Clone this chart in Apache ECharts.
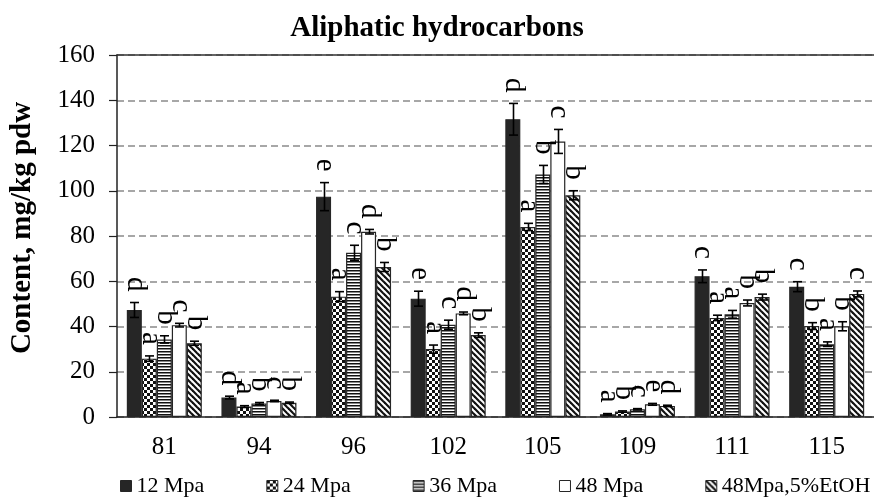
<!DOCTYPE html>
<html>
<head>
<meta charset="utf-8">
<script src="https://cdn.jsdelivr.net/npm/echarts@6/dist/echarts.min.js"></script>
<style>
html,body{margin:0;padding:0;background:#fff;}
#chart{width:874px;height:501px;}
</style>
</head>
<body>
<div id="chart"></div>
<script>
// ---- data ----
const categories = ['81', '94', '96', '102', '105', '109', '111', '115'];
const seriesNames = ['12 Mpa', '24 Mpa', '36 Mpa', '48 Mpa', '48Mpa,5%EtOH'];

const mpa12    = [47.3, 8.6, 97.4, 52.3, 131.6, 1.2, 62.2, 57.6];
const mpa12Err = [3.3, 0.6, 6.2, 3.3, 7.0, 0.3, 2.8, 2.2];
const mpa24    = [25.8, 4.6, 53.2, 30.0, 84.0, 2.4, 43.8, 40.2];
const mpa24Err = [1.2, 0.4, 2.2, 1.8, 1.6, 0.3, 1.2, 1.5];
const mpa36    = [34.3, 6.0, 72.6, 40.8, 107.2, 3.4, 45.4, 32.2];
const mpa36Err = [1.6, 0.4, 3.3, 2.0, 4.0, 0.3, 1.7, 1.0];
const mpa48    = [40.6, 7.1, 81.9, 45.8, 121.8, 5.6, 50.4, 40.1];
const mpa48Err = [0.8, 0.3, 1.0, 0.6, 5.3, 0.4, 1.3, 2.0];
const etoh     = [32.6, 6.3, 66.3, 36.2, 98.0, 4.9, 53.0, 54.4];
const etohErr  = [0.9, 0.3, 2.0, 1.0, 2.0, 0.3, 1.3, 1.3];

const letters12   = ['d', 'd', 'e', 'e', 'd', 'a', 'c', 'c'];
const letters24   = ['a', 'a', 'a', 'a', 'a', 'b', 'a', 'b'];
const letters36   = ['b', 'b', 'c', 'c', 'b', 'c', 'a', 'a'];
const letters48   = ['c', 'c', 'd', 'd', 'c', 'e', 'b', 'b'];
const lettersEtoh = ['b', 'b', 'b', 'b', 'b', 'd', 'b', 'c'];

const yTicks = { min: 0, max: 160, interval: 20 };

// ---- patterns ----
function pattern(kind) {
  const c = document.createElement('canvas');
  const ctx = c.getContext('2d');
  if (kind === 'checker') {
    c.width = 6; c.height = 6;
    ctx.fillStyle = '#fff'; ctx.fillRect(0, 0, 6, 6);
    ctx.fillStyle = '#111';
    ctx.fillRect(0, 0, 3, 3); ctx.fillRect(3, 3, 3, 3);
  } else if (kind === 'hstripe') {
    c.width = 4; c.height = 3;
    ctx.fillStyle = '#fff'; ctx.fillRect(0, 0, 4, 3);
    ctx.fillStyle = '#111'; ctx.fillRect(0, 0, 4, 1);
    ctx.fillStyle = '#888'; ctx.fillRect(0, 1, 4, 1);
  } else if (kind === 'diag') {
    c.width = 6; c.height = 6;
    ctx.fillStyle = '#fff'; ctx.fillRect(0, 0, 6, 6);
    ctx.strokeStyle = '#111'; ctx.lineWidth = 2.2;
    for (let k = -6; k <= 6; k += 6) {
      ctx.beginPath(); ctx.moveTo(k - 1, -1); ctx.lineTo(k + 7, 7); ctx.stroke();
    }
  }
  return { image: c, repeat: 'repeat' };
}

const values = [mpa12, mpa24, mpa36, mpa48, etoh];
const errs = [mpa12Err, mpa24Err, mpa36Err, mpa48Err, etohErr];
const letters = [letters12, letters24, letters36, letters48, lettersEtoh];
const fills = ['#262626', pattern('checker'), pattern('hstripe'), '#ffffff', pattern('diag')];

const BAR_W = 15;
const FONT = 'Liberation Serif, Times New Roman, serif';

const barSeries = seriesNames.map((name, i) => ({
  name: name,
  type: 'bar',
  xAxisIndex: 0,
  barWidth: BAR_W,
  barGap: '0%',
  data: values[i],
  itemStyle: { color: fills[i], borderColor: '#262626', borderWidth: 1.2 },
  emphasis: { disabled: true }
}));

const errData = [];
values.forEach((arr, s) => arr.forEach((v, c) => errData.push([c, s, v, errs[s][c]])));

// error bars + significance letters (placed above the error bar top)
const errSeries = {
  type: 'custom',
  xAxisIndex: 0,
  z: 5,
  silent: true,
  encode: { x: 0, y: 2 },
  data: errData,
  renderItem: function (params, api) {
    const c = api.value(0), s = api.value(1), v = api.value(2), e = api.value(3);
    const p = api.coord([c, v]);
    const xc = p[0] + (s - 2) * BAR_W;
    const x = Math.round(xc) + 0.5;
    const yt = api.coord([c, v + e])[1];
    const yb = api.coord([c, Math.max(0, v - e)])[1];
    const hw = 4.5;
    const st = { stroke: '#000', lineWidth: 1.6 };
    return {
      type: 'group',
      children: [
        { type: 'line', shape: { x1: x, y1: yt, x2: x, y2: yb }, style: st },
        { type: 'line', shape: { x1: x - hw, y1: yt, x2: x + hw, y2: yt }, style: st },
        { type: 'line', shape: { x1: x - hw, y1: yb, x2: x + hw, y2: yb }, style: st },
        {
          type: 'text',
          x: xc + 1,
          y: yt - 11,
          rotation: -Math.PI / 2,
          style: {
            text: letters[s][c],
            fill: '#000',
            font: '29px ' + FONT,
            align: 'right',
            verticalAlign: 'middle',
            textAlign: 'right',
            textVerticalAlign: 'middle'
          }
        }
      ]
    };
  }
};

const chart = echarts.init(document.getElementById('chart'), null, { renderer: 'canvas' });
chart.setOption({
  animation: false,
  backgroundColor: '#fff',
  title: {
    text: 'Aliphatic hydrocarbons',
    left: 'center',
    top: 14,
    padding: 0,
    textStyle: { fontFamily: FONT, fontWeight: 'bold', fontSize: 29, color: '#000' }
  },
  legend: {
    data: seriesNames,
    left: 120,
    top: 475,
    width: 800,
    padding: 0,
    itemWidth: 11,
    itemHeight: 11,
    itemGap: 62,
    icon: 'rect',
    textStyle: { fontFamily: FONT, fontSize: 22, color: '#000' },
    itemStyle: { borderColor: '#262626', borderWidth: 1 }
  },
  grid: { left: 117, right: -4, top: 55, bottom: 84, containLabel: false },
  xAxis: [
    {
      type: 'category',
      data: categories,
      axisLine: { lineStyle: { color: '#222', width: 1.5 } },
      axisTick: { show: false },
      axisLabel: { fontFamily: FONT, fontSize: 25, color: '#000', margin: 18 }
    },
    {
      type: 'category',
      position: 'top',
      data: categories,
      axisLine: { lineStyle: { color: '#333', width: 1.5 } },
      axisTick: { show: false },
      axisLabel: { show: false }
    }
  ],
  yAxis: {
    type: 'value',
    min: yTicks.min,
    max: yTicks.max,
    interval: yTicks.interval,
    name: 'Content, mg/kg pdw',
    nameLocation: 'middle',
    nameGap: 80,
    nameTextStyle: { fontFamily: FONT, fontWeight: 'bold', fontSize: 29, color: '#000', padding: [0, 0, 0, 16] },
    axisLine: { show: true, lineStyle: { color: '#222', width: 1.5 } },
    axisTick: { show: true, length: 8, lineStyle: { color: '#222', width: 1.2 } },
    axisLabel: { fontFamily: FONT, fontSize: 25, color: '#000', margin: 22 },
    splitLine: { lineStyle: { color: '#8a8a8a', type: [7, 4], width: 1.5 } }
  },
  series: barSeries.concat([errSeries])
});
</script>
</body>
</html>
